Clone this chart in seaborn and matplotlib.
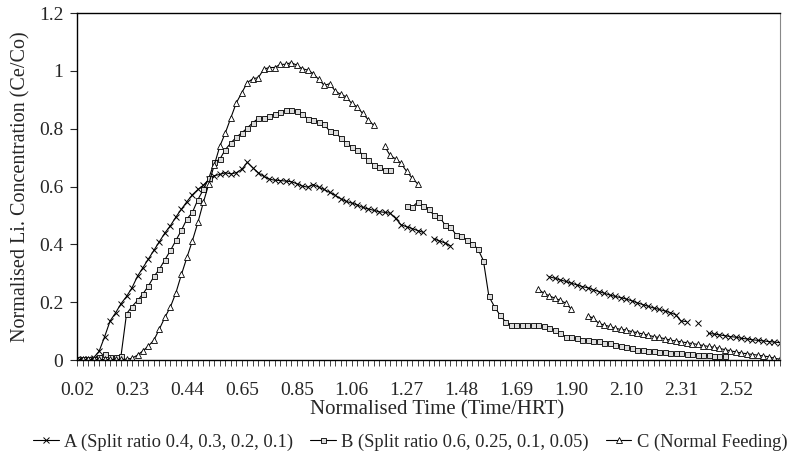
import numpy as np
import pandas as pd
import seaborn as sns
import matplotlib.pyplot as plt
import matplotlib.ticker as ticker
from matplotlib.lines import Line2D

nan = np.nan

# x axis: category labels shown every 10th sample (Normalised Time)
tick_labels = ['0.02', '0.23', '0.44', '0.65', '0.85', '1.06', '1.27',
               '1.48', '1.69', '1.90', '2.10', '2.31', '2.52']

# A (Split ratio 0.4, 0.3, 0.2, 0.1)
a_values = [
    0.003, 0.003, 0.004, 0.008, 0.03, 0.08, 0.135, 0.163, 0.195, 0.22,
    0.25, 0.29, 0.32, 0.35, 0.38, 0.41, 0.44, 0.465, 0.495, 0.522,
    0.548, 0.572, 0.59, 0.605, 0.625, 0.638, 0.642, 0.648, 0.644, 0.648,
    0.66, 0.684, 0.665, 0.648, 0.635, 0.626, 0.622, 0.621, 0.619, 0.617,
    0.61, 0.602, 0.598, 0.607, 0.598, 0.59, 0.58, 0.57, 0.558, 0.549,
    0.543, 0.537, 0.528, 0.523, 0.518, 0.513, 0.511, 0.508, 0.49, 0.468,
    0.461, 0.455, 0.448, 0.442, nan, 0.419, 0.412, 0.405, 0.395, nan,
    nan, nan, nan, nan, nan, nan, nan, nan, nan, nan,
    nan, nan, nan, nan, nan, nan, 0.288, 0.283, 0.277, 0.272,
    0.266, 0.26, 0.254, 0.25, 0.243, 0.237, 0.231, 0.225, 0.22, 0.216,
    0.211, 0.205, 0.198, 0.192, 0.186, 0.18, 0.175, 0.17, 0.164, 0.157,
    0.135, 0.133, nan, 0.127, nan, 0.092, 0.09, 0.087, 0.084, 0.081,
    0.079, 0.075, 0.073, 0.07, 0.068, 0.066, 0.064, 0.062, 0.06,
]

# B (Split ratio 0.6, 0.25, 0.1, 0.05)
b_values = [
    0.004, 0.004, 0.004, 0.005, 0.01, 0.022, 0.01, 0.012, 0.015, 0.16,
    0.185, 0.206, 0.229, 0.257, 0.289, 0.315, 0.347, 0.379, 0.414, 0.449,
    0.488, 0.511, 0.555, 0.59, 0.63, 0.685, 0.695, 0.728, 0.751, 0.771,
    0.786, 0.803, 0.821, 0.836, 0.838, 0.844, 0.852, 0.858, 0.864, 0.864,
    0.861, 0.85, 0.835, 0.829, 0.823, 0.815, 0.792, 0.788, 0.769, 0.751,
    0.738, 0.726, 0.711, 0.691, 0.676, 0.667, 0.656, 0.656, nan, nan,
    0.532, 0.528, 0.546, 0.534, 0.524, 0.5, 0.495, 0.468, 0.46, 0.434,
    0.428, 0.416, 0.402, 0.384, 0.344, 0.22, 0.185, 0.156, 0.133, 0.121,
    0.121, 0.121, 0.121, 0.121, 0.121, 0.118, 0.11, 0.104, 0.092, 0.081,
    0.079, 0.075, 0.069, 0.069, 0.067, 0.066, 0.06, 0.058, 0.052, 0.049,
    0.044, 0.04, 0.036, 0.033, 0.032, 0.03, 0.029, 0.027, 0.025, 0.023,
    0.023, 0.021, 0.02, 0.018, 0.017, 0.016, 0.015, 0.014, 0.013, nan,
    nan, nan, nan, nan, nan, nan, nan, nan, nan,
]

# C (Normal Feeding)
c_values = [
    0.002, 0.002, 0.002, 0.002, 0.002, 0.002, 0.002, 0.002, 0.002, 0.003,
    0.006, 0.017, 0.032, 0.049, 0.069, 0.108, 0.148, 0.184, 0.233, 0.296,
    0.355, 0.413, 0.476, 0.546, 0.61, 0.676, 0.74, 0.786, 0.838, 0.89,
    0.925, 0.96, 0.973, 0.977, 1.006, 1.012, 1.012, 1.023, 1.023, 1.029,
    1.02, 1.008, 1.003, 0.991, 0.971, 0.95, 0.956, 0.931, 0.919, 0.911,
    0.888, 0.876, 0.853, 0.832, 0.812, nan, 0.74, 0.708, 0.696, 0.68,
    0.653, 0.63, 0.61, nan, nan, nan, nan, nan, nan, nan,
    nan, nan, nan, nan, nan, nan, nan, nan, nan, nan,
    nan, nan, nan, nan, 0.245, 0.231, 0.222, 0.214, 0.206, 0.197,
    0.176, nan, nan, 0.153, 0.145, 0.127, 0.121, 0.116, 0.11, 0.106,
    0.104, 0.098, 0.095, 0.09, 0.086, 0.081, 0.078, 0.074, 0.069, 0.066,
    0.063, 0.06, 0.057, 0.054, 0.05, 0.047, 0.044, 0.04, 0.036, 0.032,
    0.028, 0.024, 0.022, 0.019, 0.017, 0.014, 0.011, 0.006, 0.003,
]

series_names = ['A (Split ratio 0.4, 0.3, 0.2, 0.1)',
                'B (Split ratio 0.6, 0.25, 0.1, 0.05)',
                'C (Normal Feeding)']


def to_long(name, values):
    """Long table with a unit id per unbroken run so gaps stay open"""
    s = pd.Series(values, dtype=float)
    seg = s.isna().cumsum()
    df = pd.DataFrame({'idx': np.arange(len(s)), 'value': s,
                       'unit': [f'{name}_{k}' for k in seg]})
    return df.dropna()


sns.set_style('ticks')
plt.rcParams['font.family'] = ['Liberation Serif', 'DejaVu Serif']

fig = plt.figure(figsize=(7.95, 4.54), dpi=100)
ax = fig.add_axes([0.097, 0.207, 0.884, 0.764])

styles = [
    dict(marker='x', markersize=4, markeredgewidth=0.7),
    dict(marker='s', markersize=3.6, markerfacecolor='#dcdcdc', markeredgewidth=0.6),
    dict(marker='^', markersize=4, markerfacecolor='white', markeredgewidth=0.6),
]

for name, vals, st in zip(series_names, [a_values, b_values, c_values], styles):
    df = to_long(name, vals)
    sns.lineplot(data=df, x='idx', y='value', units='unit', estimator=None,
                 color='black', linewidth=0.8, markeredgecolor='black',
                 legend=False, ax=ax, **st)

n = len(a_values)
ax.set_xlim(0, n - 1)
ax.set_ylim(0, 1.2)
ax.set_xticks(np.arange(n))
ax.set_xticklabels([tick_labels[i // 10] if i % 10 == 0 else '' for i in range(n)])
ax.set_yticks(np.arange(0, 1.21, 0.2))
ax.yaxis.set_major_formatter(ticker.FuncFormatter(lambda v, pos: f'{v:g}'))
ax.tick_params(axis='x', length=4, width=0.7, pad=12, labelsize=14, color='#444444')
ax.tick_params(axis='y', length=5, width=0.8, pad=5, labelsize=14)

for side in ['left', 'bottom', 'top']:
    ax.spines[side].set_color('black')
    ax.spines[side].set_linewidth(1.0)
ax.spines['right'].set_color('#888888')
ax.spines['right'].set_linewidth(0.8)

ax.set_xlabel('Normalised Time (Time/HRT)', fontsize=15, labelpad=0)
ax.xaxis.set_label_coords(0.512, -0.115)
ax.set_ylabel('Normalised Li. Concentration (Ce/Co)', fontsize=14.5, labelpad=6)

handles = [Line2D([], [], color='black', linewidth=0.8, **st) for st in styles]
ax.legend(handles, series_names, loc='upper center', bbox_to_anchor=(0.474, -0.19),
          ncol=3, frameon=False, fontsize=13.3, handlelength=1.4, handletextpad=0.3,
          columnspacing=0.9, borderaxespad=0)

fig.savefig('out.png', dpi=100)
